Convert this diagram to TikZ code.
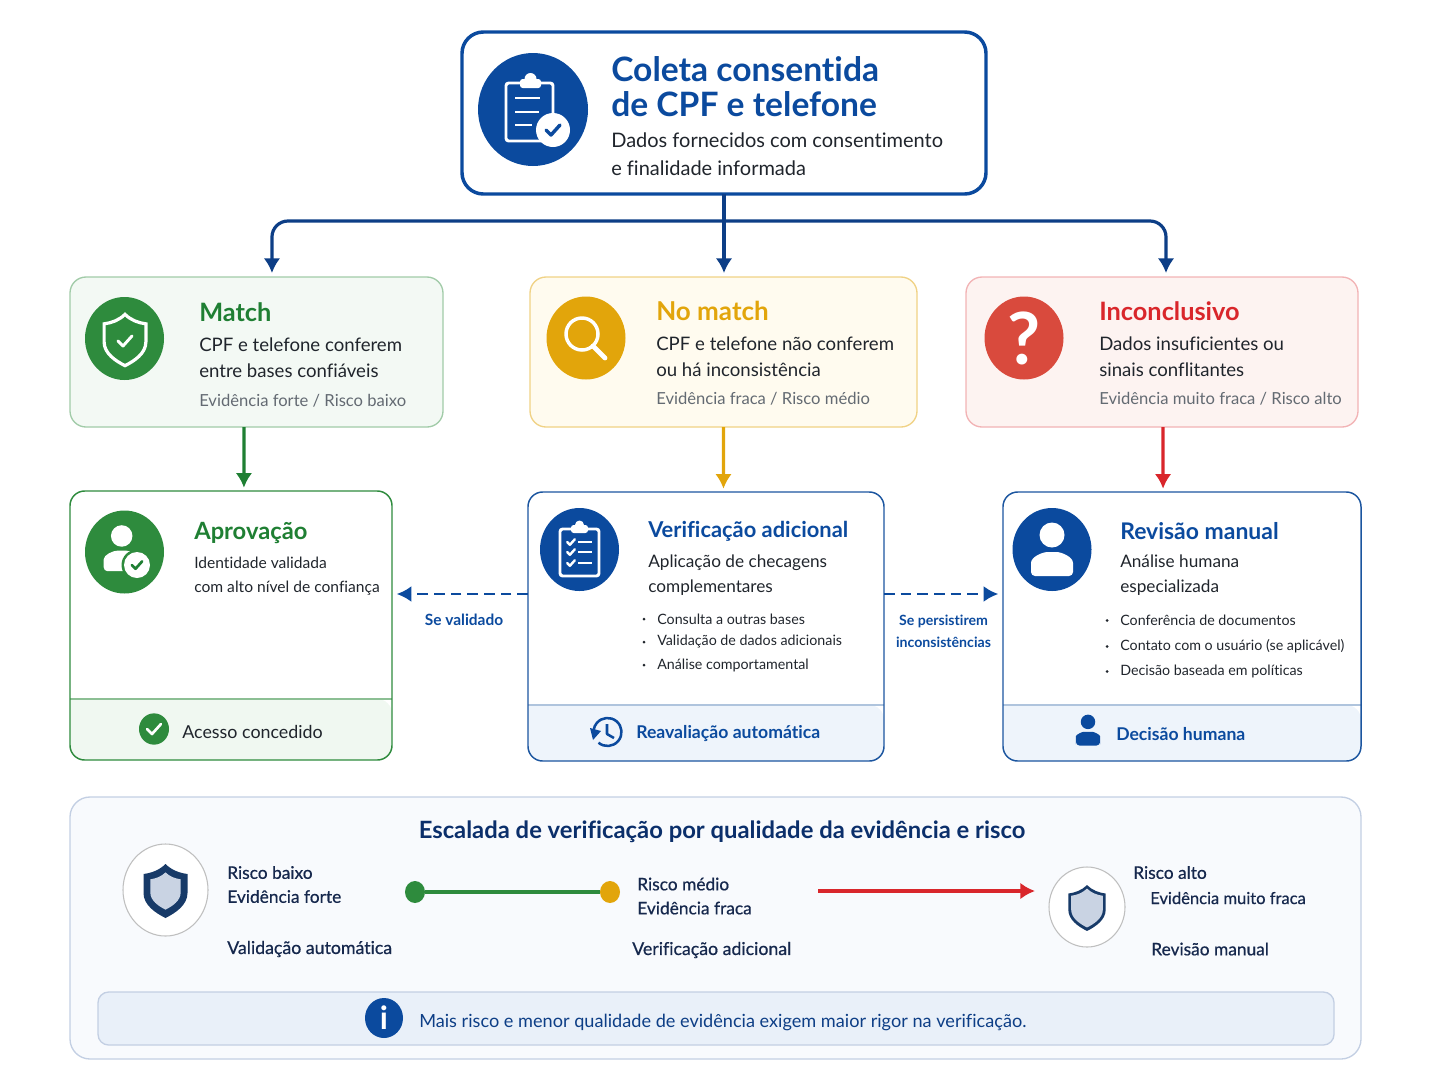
\documentclass[tikz,border=0pt]{standalone}
\usepackage{fontspec}
\setmainfont{Lato}[Ligatures=NoCommon]
\newfontfamily\midfont{Lato}[FakeBold=0.6,Ligatures=NoCommon]
\usetikzlibrary{arrows.meta,positioning,shapes.geometric,calc}
\definecolor{Navy}{HTML}{0B2F6B}
\definecolor{ShieldNavy}{HTML}{173A68}
\definecolor{ScaleInk}{HTML}{16284D}
\definecolor{Blue}{HTML}{0B4A9E}
\definecolor{DarkBlue}{HTML}{0D3E86}
\definecolor{CardBlue}{HTML}{1B559F}
\definecolor{Green}{HTML}{2E8B3D}
\definecolor{DeepGreen}{HTML}{1F7F33}
\definecolor{Amber}{HTML}{E2A50B}
\definecolor{Red}{HTML}{D9262B}
\definecolor{Coral}{HTML}{D94A3D}
\definecolor{Ink}{HTML}{20252C}
\definecolor{Muted}{HTML}{636A72}
\definecolor{SoftGreen}{HTML}{F3F9F4}
\definecolor{SoftAmber}{HTML}{FFFBEF}
\definecolor{SoftRed}{HTML}{FDF3F1}
\definecolor{FootGreen}{HTML}{F0F8F1}
\definecolor{FootBlue}{HTML}{EEF4FB}
\definecolor{Panel}{HTML}{F8FAFD}
\definecolor{PanelLine}{HTML}{C3CFE3}
\definecolor{BarFill}{HTML}{E9F0F9}
\definecolor{ShieldFill}{HTML}{C9D3E3}
\begin{document}
\begin{tikzpicture}[
  x=0.75pt,y=-0.75pt,
  topbox/.style={rectangle,anchor=north west,outer sep=0pt,rounded corners=16pt,draw=Blue,line width=2.6pt,fill=white,minimum width=393pt,minimum height=121.5pt},
  softbox/.style={rectangle,anchor=north west,outer sep=0pt,rounded corners=12pt,line width=1pt,minimum height=112.5pt},
  cardbox/.style={rectangle,anchor=north west,outer sep=0pt,rounded corners=11pt,line width=1.1pt,minimum height=201.75pt},
  iconcircle/.style={ellipse,inner sep=0pt,outer sep=0pt,minimum width=59.25pt,minimum height=62.25pt},
  toptitle/.style={anchor=west,inner sep=0pt,align=left,text=Blue,font=\fontsize{25.2}{26.25}\selectfont\bfseries},
  topsub/.style={anchor=west,inner sep=0pt,align=left,text=Ink,font=\fontsize{15}{21}\selectfont},
  cardtitle/.style={anchor=west,inner sep=0pt,font=\fontsize{19}{20}\selectfont\bfseries},
  carddesc/.style={anchor=west,inner sep=0pt,align=left,text=Ink,font=\fontsize{13.95}{19.4}\selectfont},
  checkdesc/.style={anchor=west,inner sep=0pt,align=left,text=Ink,font=\fontsize{12.9}{18.9}\selectfont},
  smalldesc/.style={anchor=west,inner sep=0pt,align=left,text=Ink,font=\fontsize{11.7}{18}\selectfont},
  cardnote/.style={anchor=west,inner sep=0pt,text=Muted,font=\fontsize{12.45}{14}\selectfont},
  bulletline/.style={anchor=west,inner sep=0pt,text=Ink,font=\fontsize{10.7}{13}\selectfont},
  footlabel/.style={anchor=west,inner sep=0pt,font=\fontsize{13.2}{15}\selectfont\bfseries},
  edgelabel/.style={inner sep=0pt,align=center,text=Blue,font=\fontsize{10.6}{16.5}\selectfont\bfseries},
  scalelabel/.style={anchor=west,inner sep=0pt,align=left,text=ScaleInk,font=\fontsize{13}{18}\selectfont\midfont},
  steplabel/.style={anchor=west,inner sep=0pt,text=ScaleInk,font=\fontsize{13.3}{18}\selectfont\midfont},
  flowarrow/.style={-{Latex[length=11pt,width=12.5pt]},line width=2.4pt},
  dasharrow/.style={-{Latex[length=11pt,width=12pt]},line width=2.2pt,draw=Blue,dash pattern=on 8pt off 4.5pt,shorten >=3.5pt},
  pics/tick/.style={code={\draw[line cap=round,line join=round,#1] (-7,0) -- (-2,5) -- (7,-5);}},
  pics/shieldform/.style={code={\path[#1] (0,-27) .. controls (6,-21) and (14,-18) .. (22,-17) -- (22,2) .. controls (22,14) and (10,22) .. (0,27) .. controls (-10,22) and (-22,14) .. (-22,2) -- (-22,-17) .. controls (-14,-18) and (-6,-21) .. (0,-27) -- cycle;}},
  pics/personform/.style={code={\fill[#1] (0,-14) circle (12.5); \fill[#1,rounded corners=3pt] (-21,27) -- (-21,18) .. controls (-21,8) and (-10,3) .. (0,3) .. controls (10,3) and (21,8) .. (21,18) -- (21,27) -- cycle;}}
]
\useasboundingbox (0,0) rectangle (1448,1086);

\fill[FootGreen,rounded corners=11pt] (70,699) -- (70,760) -- (392,760) -- (392,699) [sharp corners] -- cycle;
\fill[FootBlue,rounded corners=11pt] (528,705) -- (528,761) -- (884,761) -- (884,705) [sharp corners] -- cycle;
\fill[FootBlue,rounded corners=11pt] (1003,705) -- (1003,761) -- (1361,761) -- (1361,705) [sharp corners] -- cycle;
\draw[Green!55,line width=.8pt] (70,699) -- (392,699);
\draw[CardBlue!35,line width=.8pt] (528,705) -- (884,705);
\draw[CardBlue!35,line width=.8pt] (1003,705) -- (1361,705);

\node[topbox] (coleta) at (462,32) {};
\node[softbox,draw=Green!45,fill=SoftGreen,minimum width=279.75pt] (match) at (70,277) {};
\node[softbox,draw=Amber!50,fill=SoftAmber,minimum width=290.25pt] (nomatch) at (530,277) {};
\node[softbox,draw=Red!35,fill=SoftRed,minimum width=294pt] (incon) at (966,277) {};
\node[cardbox,draw=Green,minimum width=241.5pt] (aprov) at (70,491) {};
\node[cardbox,draw=CardBlue,minimum width=267pt] (verif) at (528,492) {};
\node[cardbox,draw=CardBlue,minimum width=268.5pt] (revis) at (1003,492) {};
\node[rectangle,anchor=north west,outer sep=0pt,rounded corners=15pt,draw=PanelLine,fill=Panel,line width=1pt,minimum width=968.25pt,minimum height=196.5pt] (escala) at (70,797) {};
\node[rectangle,anchor=north west,outer sep=0pt,rounded corners=8pt,draw=PanelLine,fill=BarFill,line width=1pt,minimum width=927pt,minimum height=39.75pt] (infobar) at (98,992) {};

\node[iconcircle,fill=Blue,minimum width=82.5pt,minimum height=84.75pt] (coletaicon) at (533,109.5) {};
\draw[white,line width=2.2pt,rounded corners=2pt] (506,83) rectangle (553,141);
\fill[white,rounded corners=2pt] (520,79) rectangle (541,88);
\fill[white] (530.5,79) circle (6);
\draw[white,line width=2.2pt] (515,98) -- (540,98) (515,112) -- (539,112) (515,125) -- (532,125);
\fill[white] (553,130) circle (17);
\pic at (553,130) {tick={Blue,line width=2.6pt}};
\node[toptitle] (coletatitle) at (611,86.5) {Coleta consentida\\de CPF e telefone};
\node[topsub] (coletasub) at (611,154) {Dados fornecidos com consentimento\\e finalidade informada};

\coordinate (split) at (724,221);
\draw[flowarrow,draw=DarkBlue,shorten >=3pt] (coleta.south) -- (coleta.south |- nomatch.north);
\draw[flowarrow,draw=DarkBlue,rounded corners=12pt,shorten >=3pt] (split) -| ([xshift=11.6pt]match.north);
\draw[flowarrow,draw=DarkBlue,rounded corners=12pt,shorten >=3pt] (split) -| ([xshift=3pt]incon.north);

\node[iconcircle,fill=Green] (matchicon) at (124.5,338.5) {};
\pic[scale=.95] at (125,340) {shieldform={draw=white,line width=2.4pt}};
\pic at (125,341) {tick={white,line width=2.2pt}};
\node[cardtitle,text=DeepGreen] (matchtitle) at (199,312) {Match};
\node[carddesc] (matchdesc) at (199,358) {CPF e telefone conferem\\entre bases confiáveis};
\node[cardnote] (matchnote) at (199,401) {Evidência forte / Risco baixo};

\node[iconcircle,fill=Amber] (nomatchicon) at (586,338) {};
\draw[white,line width=2.6pt] (582,334) circle (16);
\draw[white,line width=3.6pt,line cap=round] (593,346) -- (605,358);
\node[cardtitle,text=Amber,font=\fontsize{19.5}{20}\selectfont\bfseries] (nomatchtitle) at (656,311) {No match};
\node[carddesc] (nomatchdesc) at (656,357) {CPF e telefone não conferem\\ou há inconsistência};
\node[cardnote] (nomatchnote) at (656,399) {Evidência fraca / Risco médio};

\node[iconcircle,fill=Coral] (inconicon) at (1024,338) {};
\node[inner sep=0pt,text=white,font=\fontsize{54}{56}\selectfont\bfseries] (inconmark) at (1024,338) {?};
\node[cardtitle,text=Red] (incontitle) at (1099,311) {Inconclusivo};
\node[carddesc] (incondesc) at (1099,357) {Dados insuficientes ou\\sinais conflitantes};
\node[cardnote] (inconnote) at (1099,399) {Evidência muito fraca / Risco alto};

\draw[flowarrow,draw=DeepGreen,shorten >=2.5pt] ([xshift=-9.4pt]match.south) -- ([xshift=9.7pt]aprov.north);
\draw[flowarrow,draw=Amber,shorten >=2.5pt] (nomatch.south) -- ([xshift=13.1pt]verif.north);
\draw[flowarrow,draw=Red,shorten >=2.5pt] ([xshift=.75pt]incon.south) -- ([xshift=-14.2pt]revis.north);

\node[iconcircle,fill=Green] (aprovicon) at (124.5,552) {};
\pic[scale=.86] at (121.7,548) {personform=white};
\fill[Green] (137,565) circle (15.5);
\fill[white] (137,565) circle (13);
\pic[scale=.75] at (137,565) {tick={DeepGreen,line width=2pt}};
\node[cardtitle,text=DeepGreen,font=\fontsize{17.8}{20}\selectfont\bfseries] (aprovtitle) at (194,533) {Aprovação};
\node[smalldesc] (aprovdesc) at (194,576) {Identidade validada\\com alto nível de confiança};
\node[iconcircle,fill=Green,minimum width=22.5pt,minimum height=23.5pt] (acessoicon) at (154,729) {};
\pic at (154,729) {tick={white,line width=2pt}};
\node[footlabel,text=Ink,font=\fontsize{13.4}{15}\selectfont] (acessolabel) at (182,732) {Acesso concedido};

\node[iconcircle,fill=Blue] (verificon) at (579.5,549.5) {};
\draw[white,line width=2.2pt,rounded corners=2pt] (560,529) rectangle (599,576);
\fill[white,rounded corners=2pt] (571,525) rectangle (588,533);
\fill[white] (579.5,525) circle (4.5);
\foreach \rowy in {542,552,563}{
  \pic[scale=.55] at (571,\rowy) {tick={white,line width=1.8pt}};
  \draw[white,line width=1.9pt] (578,\rowy) -- (592,\rowy);
}
\node[cardtitle,text=Blue,font=\fontsize{16.4}{20}\selectfont\bfseries] (veriftitle) at (648,531) {Verificação adicional};
\node[checkdesc] (verifdesc) at (648,575) {Aplicação de checagens\\complementares};
\foreach \itemy/\itemname/\itemtext in {619/verifa/Consulta a outras bases,642/verifb/Validação de dados adicionais,665/verifc/Análise comportamental}{
  \fill[Ink] (644,\itemy) circle (1.5);
  \node[bulletline] (\itemname) at (657,\itemy) {\itemtext};
}
\draw[Blue,line width=1.9pt] (598.5,742.7) arc (130:-172:14);
\fill[Blue] (590,728) -- (601,731) -- (593,740) -- cycle;
\draw[Blue,line width=1.9pt,line join=round] (607,724) -- (607,734) -- (614,738);
\node[footlabel,text=Blue] (reavalabel) at (636,734) {Reavaliação automática};

\node[iconcircle,fill=Blue] (revisicon) at (1052,549.5) {};
\pic at (1052,549) {personform=white};
\node[cardtitle,text=Blue,font=\fontsize{17.2}{20}\selectfont\bfseries] (revistitle) at (1120,531) {Revisão manual};
\node[checkdesc] (revisdesc) at (1120,575) {Análise humana\\especializada};
\foreach \itemy/\itemname/\itemtext in {620.5/revisa/Conferência de documentos,646.5/revisb/Contato com o usuário (se aplicável),671.5/revisc/Decisão baseada em políticas}{
  \fill[Ink] (1107,\itemy) circle (1.5);
  \node[bulletline] (\itemname) at (1120,\itemy) {\itemtext};
}
\pic[scale=.58] at (1088,730) {personform=Blue};
\node[footlabel,text=Blue] (decisaolabel) at (1116,734) {Decisão humana};

\coordinate (dashy) at (0,594);
\draw[dasharrow] (verif.west |- dashy) -- (aprov.east |- dashy);
\draw[dasharrow] (verif.east |- dashy) -- (revis.west |- dashy);
\node[edgelabel,font=\fontsize{11.6}{16.5}\selectfont\bfseries] (validado) at (464,620) {Se validado};
\node[edgelabel] (persiste) at (943.5,631) {Se persistirem\\inconsistências};

\node[inner sep=0pt,text=Navy,font=\fontsize{17.85}{20}\selectfont\bfseries] (escalatitle) at (722,832) {Escalada de verificação por qualidade da evidência e risco};
\node[ellipse,draw=gray!50,fill=white,line width=.8pt,minimum width=63.75pt,minimum height=69pt,inner sep=0pt] (lowicon) at (165.5,890) {};
\pic at (165.5,891) {shieldform={fill=ShieldNavy}};
\pic[scale=.69] at (165.5,891) {shieldform={fill=ShieldFill}};
\node[scalelabel] (lowlabel) at (227,884.5) {Risco baixo\\Evidência forte};
\node[steplabel] (lowstep) at (227,949) {Validação automática};

\node[iconcircle,fill=Green,minimum width=15pt,minimum height=16.5pt] (lowdot) at (415,892) {};
\node[iconcircle,fill=Amber,minimum width=15pt,minimum height=16.5pt] (meddot) at (610,892) {};
\draw[Green,line width=2.6pt] (lowdot) -- (meddot);
\node[scalelabel] (medlabel) at (637,896) {Risco médio\\Evidência fraca};
\node[steplabel] (medstep) at (632,950) {Verificação adicional};

\coordinate (hightail) at (818,891);
\coordinate (highhead) at (1035,891);
\draw[flowarrow,draw=Red] (hightail) -- (highhead);
\node[iconcircle,draw=gray!50,fill=white,line width=.8pt,minimum width=57pt,minimum height=60pt] (highicon) at (1087,907) {};
\pic[scale=.85] at (1087,908) {shieldform={fill=ShieldNavy}};
\pic[scale=.72] at (1087,908) {shieldform={fill=ShieldFill}};
\node[scalelabel] (highrisk) at (1133,872.5) {Risco alto};
\node[scalelabel,font=\fontsize{12.4}{18}\selectfont\midfont] (highev) at (1150,898) {Evidência muito fraca};
\node[steplabel,font=\fontsize{13}{18}\selectfont\midfont] (highstep) at (1151,949) {Revisão manual};

\node[iconcircle,fill=Blue,minimum width=28.5pt,minimum height=30pt] (infoicon) at (384,1018) {};
\node[inner sep=0pt,text=white,font=\fontsize{24}{26}\selectfont\bfseries] (infomark) at (384,1018) {i};
\node[anchor=west,inner sep=0pt,text=DarkBlue,font=\fontsize{13.6}{15}\selectfont] (infotext) at (419,1022) {Mais risco e menor qualidade de evidência exigem maior rigor na verificação.};
\end{tikzpicture}
\end{document}
